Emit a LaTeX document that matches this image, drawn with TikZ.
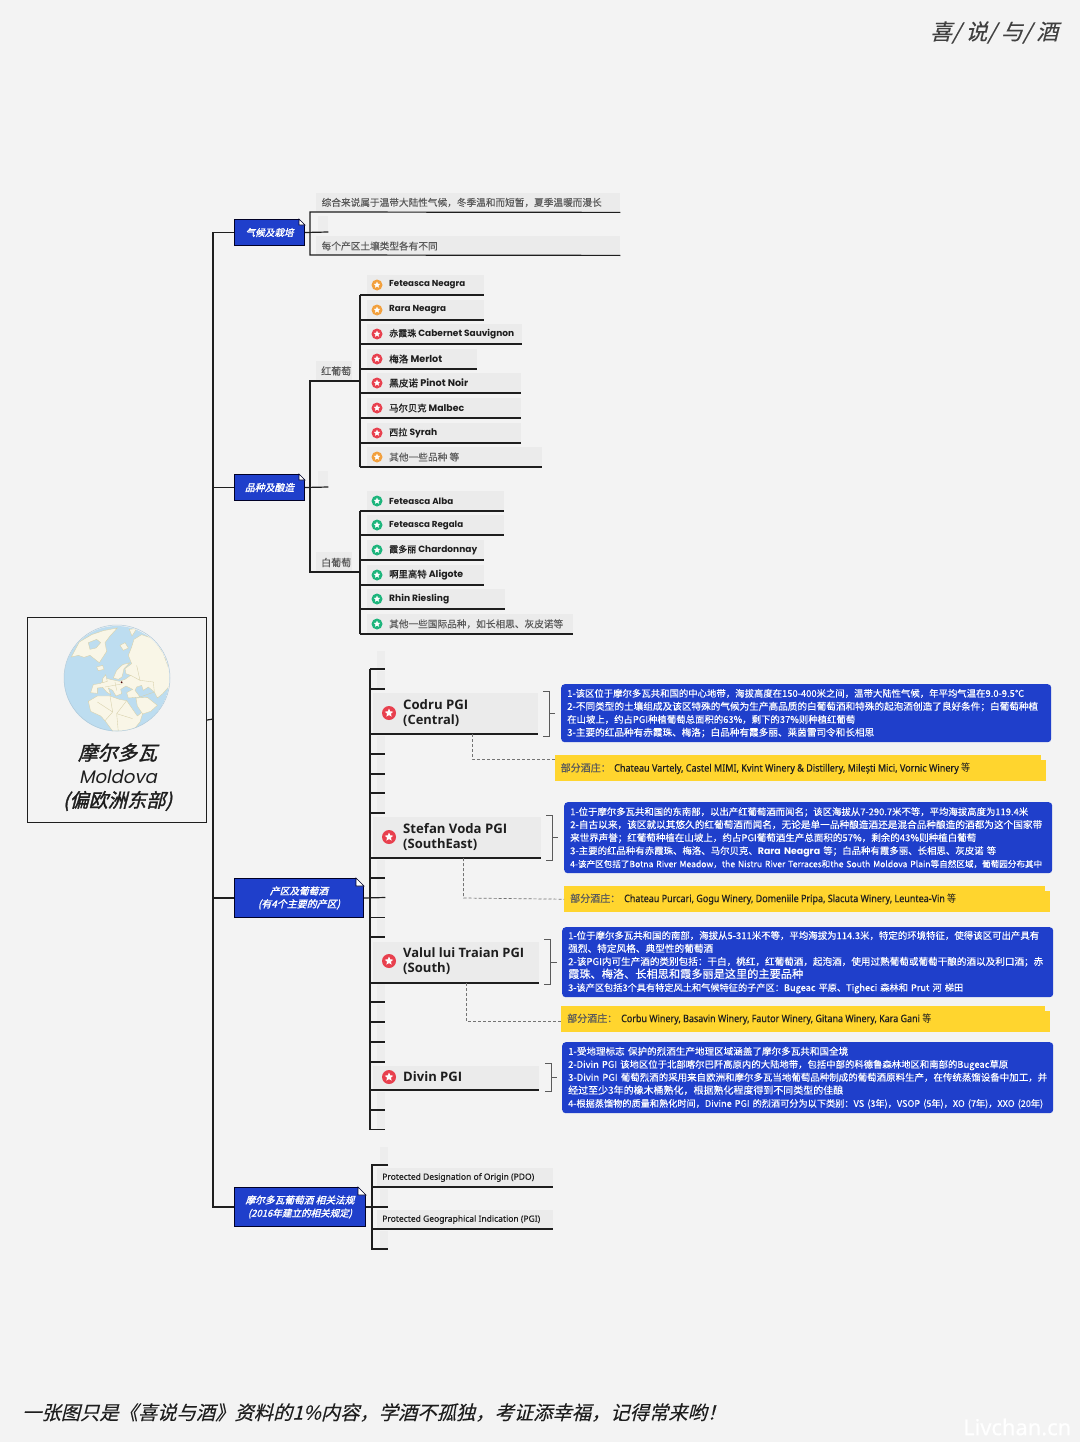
\documentclass[tikz,border=0pt]{standalone}
\usepackage{graphicx}
\usepackage{fontspec}
\setmainfont{Noto Sans CJK SC}
\newfontfamily\zhit[FakeSlant=0.25,FakeBold=0.2]{Noto Sans CJK SC}
\newfontfamily\zhbi[FakeSlant=0.25,FakeBold=1.6]{Noto Sans CJK SC}
\newfontfamily\zhb[FakeBold=0.9]{Noto Sans CJK SC}
\newfontfamily\zhm[FakeBold=0.3]{Noto Sans CJK SC}
\newfontfamily\handf{Poppins}
\newcommand{\hand}{\handf\bfseries}
\newfontfamily\handit[FakeSlant=0.2]{Poppins}
\newfontfamily\nsb[FakeBold=0.8]{Noto Sans}
\newfontfamily\nsm[FakeBold=0.5]{Noto Sans}
\newfontfamily\nsregf{Open Sans}
\newcommand{\nsreg}{\nsregf\bfseries}
\definecolor{bg}{HTML}{F3F3F3}
\definecolor{leafgray}{HTML}{EBEBEB}
\definecolor{bluebox}{HTML}{1F3FCB}
\definecolor{yel}{HTML}{FFD52E}
\definecolor{ink}{HTML}{1E1E1E}
\definecolor{soft}{HTML}{5A5A5A}
\definecolor{ico-o}{HTML}{F2A03D}
\definecolor{ico-r}{HTML}{E8404E}
\definecolor{ico-g}{HTML}{1DB57C}
\definecolor{ocean}{HTML}{BDDDF0}
\definecolor{land}{HTML}{F9F6E7}
\definecolor{border}{HTML}{D6CFA8}
\newcommand{\fw}[2]{\resizebox{#1pt}{!}{#2}}
\newcommand{\fwh}[2]{\resizebox{#1pt}{8.6pt}{#2}}
\newcommand{\starpath}[2]{\fill[white] (path picture bounding box.center) +(90:#1pt) -- +(126:#2pt) -- +(162:#1pt) -- +(198:#2pt) -- +(234:#1pt) -- +(270:#2pt) -- +(306:#1pt) -- +(342:#2pt) -- +(18:#1pt) -- +(54:#2pt) -- cycle;}
\tikzset{
  linek/.style={draw=ink,line width=1.2pt},
  thin bracket/.style={draw=soft,line width=.7pt},
  dashlink/.style={draw=soft!85,line width=.7pt,dashed,dash pattern=on 3pt off 2pt},
  leafbox/.style={fill=leafgray,inner sep=0pt,minimum height=20pt},
  stubbox/.style={fill=leafgray!80!bg,inner sep=0pt,minimum width=8pt,minimum height=18pt,anchor=south west},
  ic/.style={circle,fill=#1,inner sep=0pt,minimum size=11pt,path picture={\starpath{3.4}{1.6}}},
  icb/.style={circle,fill=#1,inner sep=0pt,minimum size=14pt,path picture={\starpath{4.4}{2.1}}},
  txt/.style={anchor=west,inner sep=0pt,text=ink,font=\fontsize{10}{12}\selectfont},
  head/.style={draw=black!85!blue,line width=1pt,fill=bluebox,inner sep=0pt,text=white,align=center,anchor=north west},
  info/.style={fill=bluebox,rounded corners=3.5pt,inner xsep=6pt,inner ysep=0pt,text=white,align=left,anchor=north west,font=\fontsize{9.6}{13}\selectfont\zhm},
  wine/.style={fill=yel,inner sep=0pt,anchor=north west,minimum height=26pt},
}
\newcommand{\leafrow}[5]{%
  \node[leafbox,anchor=south west,minimum width={(#3-367)*1pt}] (#1) at (367,#2) {};
  \node[ic=#4] (#1i) at (377,#2-10) {};
  \node[txt] (#1t) at (389,#2-10) {#5};
  \draw[linek] (360,#2) -- (#1.south east);
}
\newcommand{\hanjia}[2]{%
  \node[stubbox] (st#2) at (377,#1) {};
  \draw[linek] (370,#1) -- (st#2.south east);
}
\newcommand{\fold}[2]{%
  \fill[bg] (#1.north east) ++(-#2,0) -- ++(#2,0) -- ++(0,#2) -- cycle;
  \fill[white,draw=black!85!blue,line width=.6pt] (#1.north east) ++(-#2,0) -- ++(0,#2) -- ++(#2,0) -- cycle;
}
\begin{document}
\begin{tikzpicture}[x=1pt,y=-1pt]
\useasboundingbox (0,0) rectangle (1080,1442);
\fill[bg] (0,0) rectangle (1080,1442);

% titles
\node[anchor=west,inner sep=0pt,text=ink!85] (toptitle) at (930,32.5) {\zhit\fw{128}{喜/ 说/ 与/ 酒}};
\node[anchor=west,inner sep=0pt,text=ink] (bottomtitle) at (22,1412.5) {\zhit\fw{704}{一张图只是《喜说与酒》资料的1\%内容，学酒不孤独，考证添幸福，记得常来哟！}};
\node[anchor=west,inner sep=0pt,text=white] (watermark) at (963,1427) {\nsb\fw{108}{Livchan.cn}};

% root
\node[draw=ink,line width=1.1pt,fill=bg,inner sep=0pt,anchor=north west,minimum width=179pt,minimum height=205pt] (root) at (27,617) {};
\begin{scope}[shift={(60,622)},x=.3333pt,y=-.3333pt]
  \clip (170,170) circle (158);
  \fill[ocean] (170,170) circle (158);
  \begin{scope}[fill=land,draw=border,line width=.35pt]
    % arctic Canada + Greenland
    \filldraw (34,105) -- (58,60) -- (95,38) -- (130,26) -- (172,18) -- (150,42) -- (135,62) -- (140,88) -- (118,122) -- (100,108) -- (90,100) -- (72,106) -- (55,100) -- cycle;
    % Baffin water
    \filldraw[fill=ocean] (85,62) -- (110,52) -- (122,62) -- (108,78) -- (90,82) -- cycle;
    % Svalbard, Novaya
    \filldraw (180,70) -- (195,62) -- (205,78) -- (190,85) -- cycle;
    \filldraw (208,22) -- (230,20) -- (216,42) -- cycle;
    % Iceland
    \filldraw (110,135) -- (128,130) -- (132,142) -- (115,146) -- cycle;
    % Eurasia
    \filldraw (215,75) -- (222,52) -- (245,38) -- (280,50) -- (310,95) -- (330,150) -- (330,190) -- (308,215) -- (292,228) -- (283,210) -- (265,195) -- (250,205) -- (245,190) -- (230,195) -- (225,205) -- (240,225) -- (205,228) -- (200,212) -- (218,202) -- (198,192) -- (182,202) -- (185,215) -- (168,222) -- (158,205) -- (145,198) -- (152,218) -- (140,210) -- (128,196) -- (112,198) -- (112,214) -- (92,212) -- (100,188) -- (122,184) -- (142,170) -- (160,174) -- (178,178) -- (195,172) -- (212,160) -- (198,155) -- (195,140) -- (215,125) -- (205,100) -- cycle;
    % Scandinavia
    \filldraw (160,168) -- (170,145) -- (188,128) -- (210,122) -- (192,140) -- (186,165) -- (175,172) -- cycle;
    % Britain
    \filldraw (128,170) -- (137,158) -- (142,178) -- (128,182) -- cycle;
    % Africa
    \filldraw (85,238) -- (112,222) -- (150,222) -- (178,232) -- (200,236) -- (218,262) -- (232,282) -- (250,268) -- (240,300) -- (215,330) -- (160,330) -- (135,296) -- (122,282) -- (92,268) -- cycle;
    % Arabia
    \filldraw (228,228) -- (262,226) -- (292,250) -- (272,268) -- (248,276) -- (232,252) -- cycle;
    % borders
    \draw (150,222) -- (158,270) -- (135,296) (200,236) -- (170,275) -- (218,290) (112,240) -- (158,270) (170,275) -- (175,330);
    \draw (230,130) -- (240,175) -- (280,180) -- (283,210) (212,160) -- (240,175) (135,195) -- (190,185) (165,180) -- (170,205) (240,225) -- (283,210);
  \end{scope}
  \fill[black!70!red] (185,181) circle (3);
\end{scope}
\draw[ocean!80!gray,line width=.5pt] (117,678) circle (53);
\node[inner sep=0pt,text=ink] (rootzh) at (117.5,752.5) {\zhbi\fw{79}{摩尔多瓦}};
\node[inner sep=0pt,text=ink] (rooten) at (118,776.5) {\handit\fw{78}{Moldova}};
\node[inner sep=0pt,text=ink] (rootsub) at (117.5,801) {\zhbi\fw{109}{(偏欧洲东部)}};

% main headers
\node[head,minimum width=70pt,minimum height=26pt] (ha) at (234,219) {\zhbi\fw{48}{气候及栽培}};
\node[head,minimum width=70pt,minimum height=26pt] (hb) at (234,474) {\zhbi\fw{49}{品种及酿造}};
\node[head,minimum width=129pt,minimum height=39pt,font=\fontsize{10}{13}\selectfont] (hc) at (234,878) {\zhbi\fw{58}{产区及葡萄酒}\\\zhbi\fw{82}{(有4个主要的产区)}};
\node[head,minimum width=131pt,minimum height=39pt,font=\fontsize{10}{13}\selectfont] (hd) at (234,1187) {\zhbi\fw{109}{摩尔多瓦葡萄酒 相关法规}\\\zhbi\fw{104}{(2016年建立的相关规定)}};
\fold{ha}{6}\fold{hb}{6}\fold{hc}{8}\fold{hd}{8}

% trunk
\coordinate (trunk) at (213,719);
\draw[linek] (root.east) -- (trunk);
\draw[linek] (ha.west) -- (ha.west -| trunk) -- (hd.west -| trunk) -- (hd.west);
\draw[linek] (hb.west) -- (hb.west -| trunk);
\draw[linek] (hc.west) -- (hc.west -| trunk);

% climate
\node[fill=leafgray!70!bg,inner sep=0pt,minimum width=10pt,minimum height=16pt,anchor=south west] (astub) at (318,232) {};
\draw[linek] (ha.east) -- (astub.south east);
\node[leafbox,minimum width=304pt,minimum height=19pt,anchor=north west] (a1) at (316,193) {};
\node[leafbox,minimum width=304pt,minimum height=19pt,anchor=north west] (a2) at (316,236) {};
\node[txt,text=soft] (a1t) at (321.5,202.5) {\zhm\fw{280}{综合来说属于温带大陆性气候，冬季温和而短暂，夏季温暖而漫长}};
\node[txt,text=soft] (a2t) at (321.5,246) {\zhm\fw{116}{每个产区土壤类型各有不同}};
\draw[linek] (a1.south east) -- (310,212) -- (310,255) -- (a2.south east);

% varieties
\node[fill=leafgray!70!bg,inner sep=0pt,minimum width=10pt,minimum height=16pt,anchor=south west] (bstub) at (318,487) {};
\draw[linek] (hb.east) -- (bstub.south east);
\node[leafbox,anchor=south west,minimum width=36pt] (red) at (316,381) {};
\node[leafbox,anchor=south west,minimum width=36pt] (white) at (316,572) {};
\node[txt,text=soft] (redt) at (321,371) {\zhm\fw{30}{红葡萄}};
\node[txt,text=soft] (whitet) at (321,562.5) {\zhm\fw{30}{白葡萄}};
\draw[linek] (red.south east) -- (310,381) -- (310,572) -- (white.south east);
\draw[linek] (red.south east) -- (360,381);
\draw[linek] (white.south east) -- (360,572);
\draw[linek] (360,295) -- (360,467);
\draw[linek] (360,511) -- (360,634);

\leafrow{r1}{295}{484}{ico-o}{\hand\fw{76}{Feteasca Neagra}}
\leafrow{r2}{320}{484}{ico-o}{\hand\fw{57}{Rara Neagra}}
\leafrow{r3}{344}{522}{ico-r}{\fw{125}{\zhb 赤霞珠 \hand Cabernet Sauvignon}}
\leafrow{r4}{369}{477}{ico-r}{\fw{53}{\zhb 梅洛 \hand Merlot}}
\leafrow{r5}{393}{521}{ico-r}{\fw{79}{\zhb 黑皮诺 \hand Pinot Noir}}
\leafrow{r6}{418}{521}{ico-r}{\fw{75}{\zhb 马尔贝克 \hand Malbec}}
\leafrow{r7}{443}{521}{ico-r}{\fw{48}{\zhb 西拉 \hand Syrah}}
\leafrow{r8}{467}{542}{ico-o}{\color{soft}\zhm\fw{70}{其他一些品种 等}}
\leafrow{w1}{511}{504}{ico-g}{\hand\fw{64}{Feteasca Alba}}
\leafrow{w2}{535}{504}{ico-g}{\hand\fw{74}{Feteasca Regala}}
\leafrow{w3}{560}{484}{ico-g}{\fw{88}{\zhb 霞多丽 \hand Chardonnay}}
\leafrow{w4}{585}{484}{ico-g}{\fw{74}{\zhb 啊里高特 \hand Aligote}}
\leafrow{w5}{609}{505}{ico-g}{\hand\fw{60}{Rhin Riesling}}
\leafrow{w6}{634}{573}{ico-g}{\color{soft}\zhm\fw{174}{其他一些国际品种，如长相思、灰皮诺等}}

% regions
\node[stubbox] (cstub) at (377,897.5) {};
\draw[linek] (hc.east) -- (cstub.south east);
\draw[linek] (370,669) -- (370,1130);
\foreach \yy [count=\kk] in {669,689,754,774,793,813,878,917.5,937,1002,1022,1042,1062,1110,1129.5}{\hanjia{\yy}{\kk}}

\foreach \nm/\tp/\rgt/\bot/\ic in {codru/693/538/734/713,stefan/817/541/858/837,valul/942/539/983/961,divin/1066/539/1090/1077}{
  \node[fill=leafgray,inner sep=0pt,anchor=south west,minimum width={(\rgt-373)*1pt},minimum height={(\bot-\tp)*1pt}] (\nm) at (373,\bot) {};
  \node[icb=ico-r] (\nm i) at (389,\ic) {};
  \draw[linek] (370,\bot) -- (\nm.south east);
}
\node[txt] (codru1) at (403,705) {\nsreg\fw{65}{Codru PGI}};
\node[txt] (codru2) at (403,721) {\nsreg\fw{56}{(Central)}};
\node[txt] (stefan1) at (403,829) {\nsreg\fw{104}{Stefan Voda PGI}};
\node[txt] (stefan2) at (403,845) {\nsreg\fw{74}{(SouthEast)}};
\node[txt] (valul1) at (403,953) {\nsreg\fw{121}{Valul lui Traian PGI}};
\node[txt] (valul2) at (403,969) {\nsreg\fw{47}{(South)}};
\node[txt] (divin1) at (403,1077) {\nsreg\fw{59}{Divin PGI}};

% brackets
\draw[thin bracket] (543,691) -- (549,691) -- (549,736) -- (543,736) (549,713) -- (555,713);
\draw[thin bracket] (546,815) -- (552,815) -- (552,860) -- (546,860) (552,837) -- (558,837);
\draw[thin bracket] (544,939) -- (550,939) -- (550,984) -- (544,984) (550,962) -- (557,962);
\draw[thin bracket] (545,1063) -- (551,1063) -- (551,1091) -- (545,1091) (551,1077) -- (557,1077);

% info boxes
\node[info,minimum width=490pt,text width=478pt,minimum height=58pt] (i1) at (561,684) {%
\fw{457}{1-该区位于摩尔多瓦共和国的中心地带，海拔高度在150-400米之间，温带大陆性气候，年平均气温在9.0-9.5℃}\\
\fw{471}{2-不同类型的土壤组成及该区特殊的气候为生产高品质的白葡萄酒和特殊的起泡酒创造了良好条件；白葡萄种植}\\
\fw{288}{在山坡上，约占PGI种植葡萄总面积的63\%，剩下的37\%则种植红葡萄}\\
\fw{307}{3-主要的红品种有赤霞珠、梅洛；白品种有霞多丽、莱茵雷司令和长相思}};
\node[info,minimum width=488pt,text width=476pt,minimum height=71pt] (i2) at (564,802) {%
\fw{458}{1-位于摩尔多瓦共和国的东南部，以出产红葡萄酒而闻名；该区海拔从7-290.7米不等，平均海拔高度为119.4米}\\
\fw{472}{2-自古以来，该区就以其悠久的红葡萄酒而闻名，无论是单一品种酿造酒还是混合品种酿造的酒都为这个国家带}\\
\fw{406}{来世界声誉；红葡萄种植在山坡上，约占PGI葡萄酒生产总面积的57\%，剩余的43\%则种植白葡萄}\\
\fw{426}{3-主要的红品种有赤霞珠、梅洛、马尔贝克、{\hand Rara Neagra} 等；白品种有霞多丽、长相思、灰皮诺 等}\\
\fw{472}{4-该产区包括了Botna River Meadow，the Nistru River Terraces和the South Moldova Plain等自然区域，葡萄园分布其中}};
\node[info,minimum width=491pt,text width=479pt,minimum height=70pt] (i3) at (562,927) {%
\fw{471}{1-位于摩尔多瓦共和国的南部，海拔从5-311米不等，平均海拔为114.3米，特定的环境特征，使得该区可出产具有}\\
\fw{145}{强烈、特定风格、典型性的葡萄酒}\\
\fw{475}{2-该PGI内可生产酒的类别包括：干白，桃红，红葡萄酒，起泡酒，使用过熟葡萄或葡萄干酿的酒以及利口酒；赤}\\
\fw{235}{霞珠、梅洛、长相思和霞多丽是这里的主要品种}\\
\fw{395}{3-该产区包括3个具有特定风土和气候特征的子产区：Bugeac 平原、Tigheci 森林和 Prut 河 梯田}};
\node[info,minimum width=491pt,text width=479pt,minimum height=71pt] (i4) at (562,1042) {%
\fw{280}{1-受地理标志 保护的烈酒生产地理区域涵盖了摩尔多瓦共和国全境}\\
\fw{440}{2-Divin PGI 该地区位于北部喀尔巴阡高原内的大陆地带，包括中部的科德鲁森林地区和南部的Bugeac草原}\\
\fw{479}{3-Divin PGI 葡萄烈酒的采用来自欧洲和摩尔多瓦当地葡萄品种制成的葡萄酒原料生产，在传统蒸馏设备中加工，并}\\
\fw{275}{经过至少3年的橡木桶熟化，根据熟化程度得到不同类型的佳酿}\\
\fw{475}{4-根据蒸馏物的质量和熟化时间，Divine PGI 的烈酒可分为以下类别：VS (3年)，VSOP (5年)，XO (7年)，XXO (20年)}};

% wineries
\node[wine,minimum width=491pt] (y1) at (555,755) {};
\node[wine,minimum width=486pt] (y2) at (564,886) {};
\node[wine,minimum width=489pt] (y3) at (561,1006) {};
\foreach \nm in {y1,y2,y3}{\fill[bg] (\nm.north east) rectangle ++(-5,5);}
\node[txt] (y1t) at (560.5,768.5) {\color{soft}\zhm\fw{50}{部分酒庄：}\hspace{3.5pt}\color{ink}\fwh{356}{\nsm Chateau Vartely, Castel MIMI, Kvint Winery \& Distillery, Milești Mici, Vornic Winery {\rmfamily 等}}};
\node[txt] (y2t) at (570,899) {\color{soft}\zhm\fw{50}{部分酒庄：}\hspace{4pt}\color{ink}\fwh{332}{\nsm Chateau Purcari, Gogu Winery, Domeniile Pripa, Slacuta Winery, Leuntea-Vin {\rmfamily 等}}};
\node[txt] (y3t) at (567,1019) {\color{soft}\zhm\fw{50}{部分酒庄：}\hspace{4pt}\color{ink}\fwh{310}{\nsm Corbu Winery, Basavin Winery, Fautor Winery, Gitana Winery, Kara Gani {\rmfamily 等}}};

% dashed
\draw[dashlink] (472,734) -- (472,759) -- (y1.west |- 472,759);
\draw[dashlink] (463.5,858) -- (463.5,898) -- (y2.west);
\draw[dashlink] (466,983) -- (466,1021) -- (y3.west |- 466,1021);

% regulations
\node[stubbox] (ds1) at (380,1165) {};
\node[stubbox] (ds2) at (380,1207) {};
\node[stubbox] (ds3) at (380,1249) {};
\node[leafbox,anchor=south west,minimum width=176pt,minimum height=19pt] (pdo) at (377,1187) {};
\node[leafbox,anchor=south west,minimum width=176pt,minimum height=19pt] (pgi) at (377,1229) {};
\node[txt] (pdot) at (382,1177.5) {\nsm\fw{152}{Protected Designation of Origin (PDO)}};
\node[txt] (pgit) at (382,1219.5) {\nsm\fw{158}{Protected Geographical Indication (PGI)}};
\draw[linek] (hd.east) -- (ds2.south east);
\draw[linek] (ds1.south east) -- (372,1165) -- (372,1249) -- (ds3.south east);
\draw[linek] (372,1187) -- (pdo.south east);
\draw[linek] (372,1229) -- (pgi.south east);
\end{tikzpicture}
\end{document}
